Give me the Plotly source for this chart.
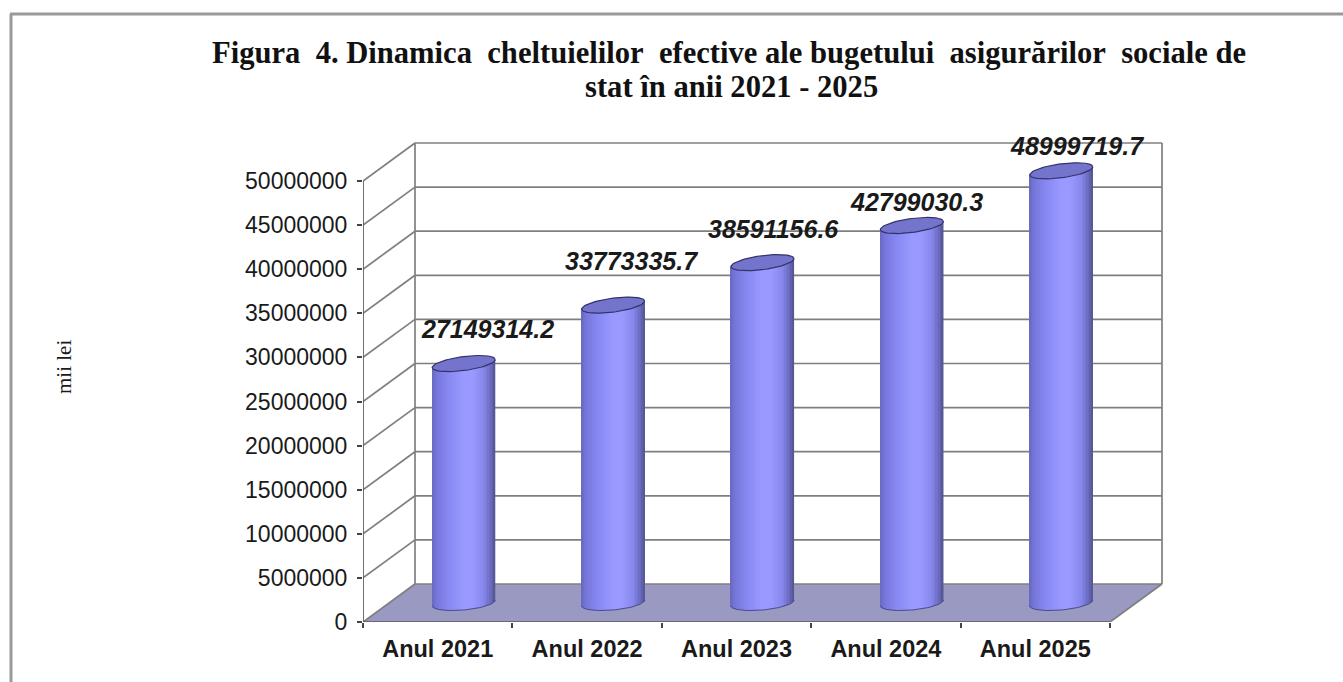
import numpy as np
import plotly.graph_objects as go

CATEGORIES = ["Anul 2021", "Anul 2022", "Anul 2023", "Anul 2024", "Anul 2025"]
VALUES = [27149314.2, 33773335.7, 38591156.6, 42799030.3, 48999719.7]
VALUE_LABELS = ["27149314.2", "33773335.7", "38591156.6", "42799030.3", "48999719.7"]
Y_TICKS = [0, 5000000, 10000000, 15000000, 20000000, 25000000,
           30000000, 35000000, 40000000, 45000000, 50000000]
TITLE_1 = ("Figura\u00a0 4. Dinamica\u00a0 cheltuielilor\u00a0 efective ale bugetului\u00a0 "
           "asigurărilor\u00a0 sociale de")
TITLE_2 = "stat în anii 2021 - 2025"
UNIT = "mii lei"

# Label nudges in screen pixels (dx, dy up) relative to the cylinder top
LABEL_DX = [24, 18, 11, 5, 16]
LABEL_DY = [35, 44, 34, 24, 25]

W, H = 1343, 682
O_X, O_Y = 363, 622
BACK_X, BACK_Y = 1162, 143
PL, PR, PT, PB = O_X, BACK_X + 3, BACK_Y - 3, O_Y
CAT_PX = (1110 - 363) / 5
VAL_PX = (622 - 181) / 50000000
DEPTH_DX, DEPTH_DY = 52 / CAT_PX, 38 / VAL_PX
X_BACK = (BACK_X - O_X) / CAT_PX
Y_BACK = (O_Y - BACK_Y) / VAL_PX
GRID = "#7f7f7f"
GRID_W = 1.7

def px_y(n):
    return n / VAL_PX

fig = go.Figure()

# floor and walls live below the traces
shapes = [dict(type="path", xref="x", yref="y", layer="below",
               path=f"M 0,0 L 5,0 L {5 + DEPTH_DX},{DEPTH_DY} L {DEPTH_DX},{DEPTH_DY} Z",
               fillcolor="#9a99c2", line=dict(width=0))]

def wall_line(x0, y0, x1, y1):
    return dict(type="line", xref="x", yref="y", layer="below", x0=x0, y0=y0, x1=x1, y1=y1,
                line=dict(color=GRID, width=GRID_W))

for v in Y_TICKS[1:]:
    shapes.append(wall_line(0, v, DEPTH_DX, v + DEPTH_DY))
    shapes.append(wall_line(DEPTH_DX, v + DEPTH_DY, X_BACK, v + DEPTH_DY))
shapes += [
    wall_line(DEPTH_DX, DEPTH_DY, DEPTH_DX, Y_BACK),
    wall_line(X_BACK, DEPTH_DY, X_BACK, Y_BACK),
    wall_line(DEPTH_DX, DEPTH_DY, X_BACK, DEPTH_DY),
    wall_line(5, 0, X_BACK, DEPTH_DY),
    wall_line(0, 0, DEPTH_DX, DEPTH_DY),
]

# axis lines
fig.add_trace(go.Scatter(x=[0, 0, 5], y=[50000000, 0, 0], mode="lines",
                         line=dict(color="#5a5a5a", width=1.7), hoverinfo="skip",
                         showlegend=False, cliponaxis=False))

# cylinders: vertical strips of a bar chart, shaded left to right
CENTERS = [i + 0.5 + DEPTH_DX / 2 for i in range(5)]
R_X = 31.5 / CAT_PX
R_MINOR_TOP = 7.0
TILT_TOP = 4.0
R_MINOR_BASE = 7.0
TILT_BASE = 2.8
STOPS_T = [-1.0, -0.85, -0.5, 0.0, 0.3, 0.65, 0.88, 1.0]
STOPS_C = [(104, 104, 190), (118, 118, 218), (135, 135, 242), (153, 153, 255),
           (153, 153, 255), (135, 135, 236), (106, 106, 190), (84, 84, 145)]
N = 42
edges = np.linspace(-1, 1, N + 1)
for a, b in zip(edges[:-1], edges[1:]):
    t = (a + b) / 2
    col = [int(np.interp(t, STOPS_T, [c[k] for c in STOPS_C])) for k in range(3)]
    low_px = TILT_BASE * t - R_MINOR_BASE * np.sqrt(1 - t * t)
    fig.add_trace(go.Bar(
        x=[c + t * R_X for c in CENTERS],
        y=[v + px_y(TILT_TOP * t) - px_y(low_px) for v in VALUES],
        base=[DEPTH_DY / 2 + px_y(low_px)] * 5,
        width=(b - a) * R_X * 1.12,
        marker=dict(color=f"rgb({col[0]},{col[1]},{col[2]})", line=dict(width=0)),
        hoverinfo="skip", showlegend=False))

# top ellipses and the dark rim of each base
theta = np.linspace(0, 2 * np.pi, 73)
for c, v in zip(CENTERS, VALUES):
    ct = np.cos(theta)
    st = np.sin(theta)
    ytop = v + DEPTH_DY / 2 + px_y(TILT_TOP * ct + R_MINOR_TOP * st)
    fig.add_trace(go.Scatter(
        x=c + R_X * ct, y=ytop, mode="lines", fill="toself", fillcolor="#7474cc",
        line=dict(color="#33336b", width=1.2), hoverinfo="skip", showlegend=False))
    th = np.linspace(np.pi, 2 * np.pi, 37)
    ct = np.cos(th)
    st = np.sin(th)
    fig.add_trace(go.Scatter(
        x=c + R_X * ct, y=DEPTH_DY / 2 + px_y(TILT_BASE * ct + R_MINOR_BASE * st), mode="lines",
        line=dict(color="#4a4a88", width=1), hoverinfo="skip", showlegend=False))

annotations = []
for c, v, s, dx, dy in zip(CENTERS, VALUES, VALUE_LABELS, LABEL_DX, LABEL_DY):
    annotations.append(dict(
        x=c, y=v + DEPTH_DY / 2, xref="x", yref="y", text=f"<b><i>{s}</i></b>",
        showarrow=False, xshift=dx, yshift=dy, xanchor="center", yanchor="middle",
        font=dict(family="Liberation Sans", size=25, color="#1a1a1a")))

def fx(p):
    return (p - PL) / (PR - PL)
def fy(p):
    return (PB - p) / (PB - PT)

annotations.append(dict(
    x=fx(64), y=fy(367), xref="paper", yref="paper", text=UNIT, textangle=-90,
    showarrow=False, xanchor="center", yanchor="middle",
    font=dict(family="Liberation Serif", size=21, color="#1a1a1a")))
annotations.append(dict(
    x=fx(731), y=fy(87), xref="paper", yref="paper", text=f"<b>{TITLE_2}</b>",
    showarrow=False, xanchor="center", yanchor="middle",
    font=dict(family="Liberation Serif", size=30.6, color="#111111")))

shapes += [
    dict(type="line", xref="paper", yref="paper", x0=fx(11), x1=fx(11), y0=fy(14), y1=fy(682),
         line=dict(color="#9a9a9a", width=3)),
    dict(type="line", xref="paper", yref="paper", x0=fx(10), x1=fx(1343), y0=fy(14), y1=fy(14),
         line=dict(color="#9a9a9a", width=3)),
]

fig.update_layout(
    width=W, height=H,
    margin=dict(l=PL, r=W - PR, t=PT, b=H - PB, pad=0),
    paper_bgcolor="white", plot_bgcolor="white",
    barmode="overlay", showlegend=False,
    title=dict(text=f"<b>{TITLE_1}</b>", x=729 / W, xanchor="center", xref="container",
               y=1 - 52 / H, yanchor="middle",
               font=dict(family="Liberation Serif", size=30.6, color="#111111")),
    xaxis=dict(range=[0, (PR - O_X) / CAT_PX], showgrid=False, zeroline=False, showline=False,
               tickmode="array", tickvals=[i + 0.5 for i in range(5)], ticktext=CATEGORIES,
               ticks="", ticklen=0, ticklabelstandoff=10,
               minor=dict(tickmode="array", tickvals=[0, 1, 2, 3, 4, 5], ticks="outside",
                          ticklen=5, tickcolor="#444444", tickwidth=1.5, showgrid=False),
               tickfont=dict(family="Liberation Sans", size=23.5, weight="bold", color="#1a1a1a")),
    yaxis=dict(range=[0, (O_Y - PT) / VAL_PX], showgrid=False, zeroline=False, showline=False,
               tickmode="array", tickvals=Y_TICKS, ticktext=[str(v) for v in Y_TICKS],
               ticks="outside", ticklen=5, tickcolor="#444444", tickwidth=1.5,
               ticklabelstandoff=5,
               tickfont=dict(family="Liberation Sans", size=23, color="#1a1a1a")),
    annotations=annotations, shapes=shapes,
)

fig.write_html("out.html", config={"displayModeBar": False},
               post_script="document.body.style.margin='0';document.documentElement.style.overflow='hidden';")
